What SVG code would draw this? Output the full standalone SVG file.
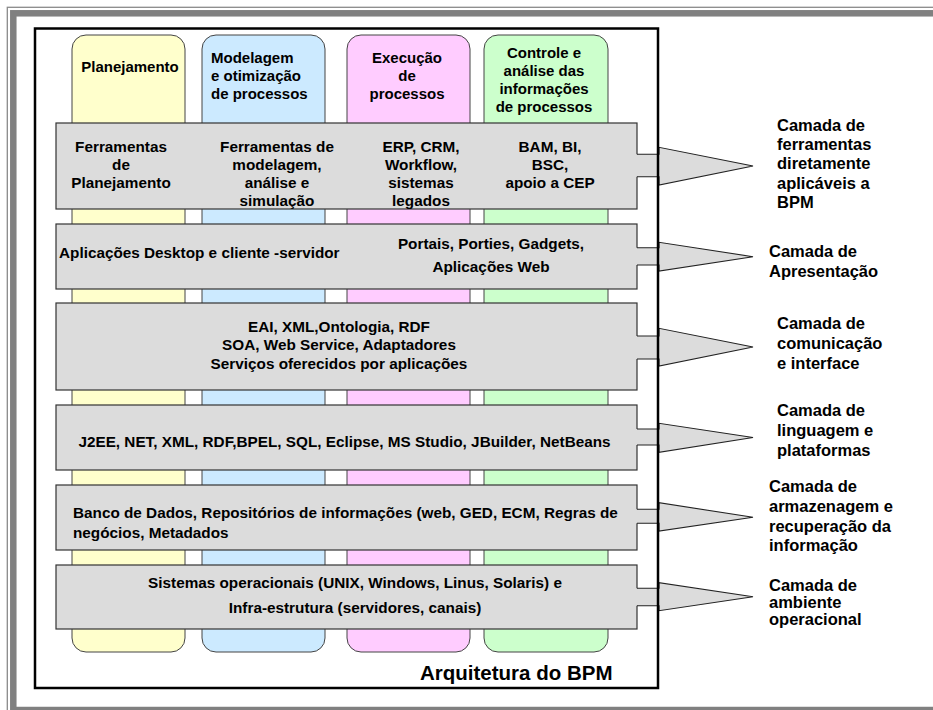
<svg xmlns="http://www.w3.org/2000/svg" width="933" height="710" viewBox="0 0 933 710">
  <style>
    text { font-family: "Liberation Sans", Arial, Helvetica, sans-serif; font-weight: bold; fill: #000; }
    .hdr { font-size: 15px; }
    .lay { font-size: 15.3px; }
    .lbl { font-size: 16.5px; }
    .ttl { font-size: 20.5px; }
    .mid { text-anchor: middle; }
    .col { stroke: #444; stroke-width: 1; }
    .box { fill: #dcdcdc; stroke: #333; stroke-width: 1.2; }
    .ptr-fill { fill: #dcdcdc; stroke: none; }
    .ptr-line { fill: none; stroke: #222; stroke-width: 1.1; }
  </style>

  <!-- page background and double grey frame -->
  <rect x="0" y="0" width="933" height="710" fill="#fff"/>
  <rect x="7.3" y="7.3" width="940" height="720" fill="none" stroke="#8a8a8a" stroke-width="1.3"/>
  <rect x="13.3" y="13.3" width="930" height="696.7" fill="none" stroke="#808080" stroke-width="6.5"/>

  <!-- process columns -->
  <g id="col-planejamento">
    <rect class="col" x="72" y="35" width="113" height="617" rx="14" fill="#ffffcc"/>
    <text class="hdr mid" x="130" y="71.5">Planejamento</text>
  </g>
  <g id="col-modelagem">
    <rect class="col" x="202" y="35" width="123" height="617" rx="14" fill="#cceaff"/>
    <text class="hdr" x="211" y="63">Modelagem</text>
    <text class="hdr" x="211" y="81">e otimização</text>
    <text class="hdr" x="211" y="99">de processos</text>
  </g>
  <g id="col-execucao">
    <rect class="col" x="347" y="35" width="123" height="617" rx="14" fill="#ffccff"/>
    <text class="hdr mid" x="407" y="63">Execução</text>
    <text class="hdr mid" x="407" y="81">de</text>
    <text class="hdr mid" x="407" y="99">processos</text>
  </g>
  <g id="col-controle">
    <rect class="col" x="484" y="35" width="124" height="617" rx="14" fill="#ccffcc"/>
    <text class="hdr mid" x="544" y="58">Controle e</text>
    <text class="hdr mid" x="544" y="76">análise das</text>
    <text class="hdr mid" x="544" y="94">informações</text>
    <text class="hdr mid" x="544" y="112">de processos</text>
  </g>

  <!-- layer bands -->
  <g id="layer-ferramentas">
    <rect class="box" x="56" y="123" width="581" height="86"/>
    <text class="lay mid" x="121" y="151.5">Ferramentas</text>
    <text class="lay mid" x="121" y="169.5">de</text>
    <text class="lay mid" x="121" y="187.5">Planejamento</text>
    <text class="lay mid" x="277" y="151.5">Ferramentas de</text>
    <text class="lay mid" x="277" y="169.5">modelagem,</text>
    <text class="lay mid" x="277" y="187.5">análise e</text>
    <text class="lay mid" x="277" y="205.5">simulação</text>
    <text class="lay mid" x="421" y="151.5">ERP, CRM,</text>
    <text class="lay mid" x="421" y="169.5">Workflow,</text>
    <text class="lay mid" x="421" y="187.5">sistemas</text>
    <text class="lay mid" x="421" y="205.5">legados</text>
    <text class="lay mid" x="550" y="151.5">BAM, BI,</text>
    <text class="lay mid" x="550" y="169.5">BSC,</text>
    <text class="lay mid" x="550" y="187.5">apoio a CEP</text>
  </g>
  <g id="layer-apresentacao">
    <rect class="box" x="56" y="224" width="581" height="65"/>
    <text class="lay" x="59" y="257.5">Aplicações Desktop e cliente -servidor</text>
    <text class="lay mid" x="491" y="248.5">Portais, Porties, Gadgets,</text>
    <text class="lay mid" x="491" y="271.5">Aplicações Web</text>
  </g>
  <g id="layer-comunicacao">
    <rect class="box" x="56" y="303" width="581" height="87"/>
    <text class="lay mid" x="339" y="331.5">EAI, XML,Ontologia, RDF</text>
    <text class="lay mid" x="339" y="350">SOA, Web Service, Adaptadores</text>
    <text class="lay mid" x="339" y="368.5">Serviços oferecidos por aplicações</text>
  </g>
  <g id="layer-linguagem">
    <rect class="box" x="56" y="405" width="581" height="65"/>
    <text class="lay mid" x="344.5" y="447">J2EE, NET, XML, RDF,BPEL, SQL, Eclipse, MS Studio, JBuilder, NetBeans</text>
  </g>
  <g id="layer-armazenagem">
    <rect class="box" x="56" y="485" width="581" height="65"/>
    <text class="lay" x="73" y="518">Banco de Dados, Repositórios de informações (web, GED, ECM, Regras de</text>
    <text class="lay" x="73" y="538">negócios, Metadados</text>
  </g>
  <g id="layer-ambiente">
    <rect class="box" x="56" y="565" width="581" height="64"/>
    <text class="lay mid" x="355" y="588">Sistemas operacionais (UNIX, Windows, Linus, Solaris) e</text>
    <text class="lay mid" x="355" y="613">Infra-estrutura (servidores, canais)</text>
  </g>

  <!-- callout pointers from each band to its caption -->
  <g id="connectors">
    <path class="ptr-fill" d="M636,154.3 H659 V147.3 L753,166 L659,185 V176.7 H636 Z"/>
    <path class="ptr-line" d="M637,154.3 H659 V147.3 L753,166 L659,185 V176.7 H637"/>
    <path class="ptr-fill" d="M636,247.7 H659 V242.3 L753,256.7 L659,271 V265 H636 Z"/>
    <path class="ptr-line" d="M637,247.7 H659 V242.3 L753,256.7 L659,271 V265 H637"/>
    <path class="ptr-fill" d="M636,336 H659 V328.3 L753,347 L659,366 V359 H636 Z"/>
    <path class="ptr-line" d="M637,336 H659 V328.3 L753,347 L659,366 V359 H637"/>
    <path class="ptr-fill" d="M636,429 H659 V423.3 L753,437.5 L659,452.3 V445 H636 Z"/>
    <path class="ptr-line" d="M637,429 H659 V423.3 L753,437.5 L659,452.3 V445 H637"/>
    <path class="ptr-fill" d="M636,509.3 H659 V502.7 L753,517.3 L659,531 V523.3 H636 Z"/>
    <path class="ptr-line" d="M637,509.3 H659 V502.7 L753,517.3 L659,531 V523.3 H637"/>
    <path class="ptr-fill" d="M636,588.3 H659 V582.7 L753,596.7 L659,610.7 V605.7 H636 Z"/>
    <path class="ptr-line" d="M637,588.3 H659 V582.7 L753,596.7 L659,610.7 V605.7 H637"/>
  </g>

  <!-- architecture frame and title -->
  <g id="frame">
    <rect x="35" y="28.5" width="623" height="659.5" fill="none" stroke="#000" stroke-width="2.5"/>
    <text class="ttl" x="420" y="680">Arquitetura do BPM</text>
  </g>

  <!-- layer captions -->
  <g id="lbl-ferramentas">
    <text class="lbl" x="777" y="130.5">Camada de</text>
    <text class="lbl" x="777" y="150">ferramentas</text>
    <text class="lbl" x="777" y="169">diretamente</text>
    <text class="lbl" x="777" y="189">aplicáveis a</text>
    <text class="lbl" x="777" y="208">BPM</text>
  </g>
  <g id="lbl-apresentacao">
    <text class="lbl" x="769" y="257">Camada de</text>
    <text class="lbl" x="769" y="277">Apresentação</text>
  </g>
  <g id="lbl-comunicacao">
    <text class="lbl" x="777" y="329">Camada de</text>
    <text class="lbl" x="777" y="349">comunicação</text>
    <text class="lbl" x="777" y="369">e interface</text>
  </g>
  <g id="lbl-linguagem">
    <text class="lbl" x="777" y="416">Camada de</text>
    <text class="lbl" x="777" y="436">linguagem e</text>
    <text class="lbl" x="777" y="456">plataformas</text>
  </g>
  <g id="lbl-armazenagem">
    <text class="lbl" x="769" y="492">Camada de</text>
    <text class="lbl" x="769" y="512">armazenagem e</text>
    <text class="lbl" x="769" y="531.5">recuperação da</text>
    <text class="lbl" x="769" y="551">informação</text>
  </g>
  <g id="lbl-ambiente">
    <text class="lbl" x="769" y="590.5">Camada de</text>
    <text class="lbl" x="769" y="607.5">ambiente</text>
    <text class="lbl" x="769" y="624.5">operacional</text>
  </g>
</svg>
